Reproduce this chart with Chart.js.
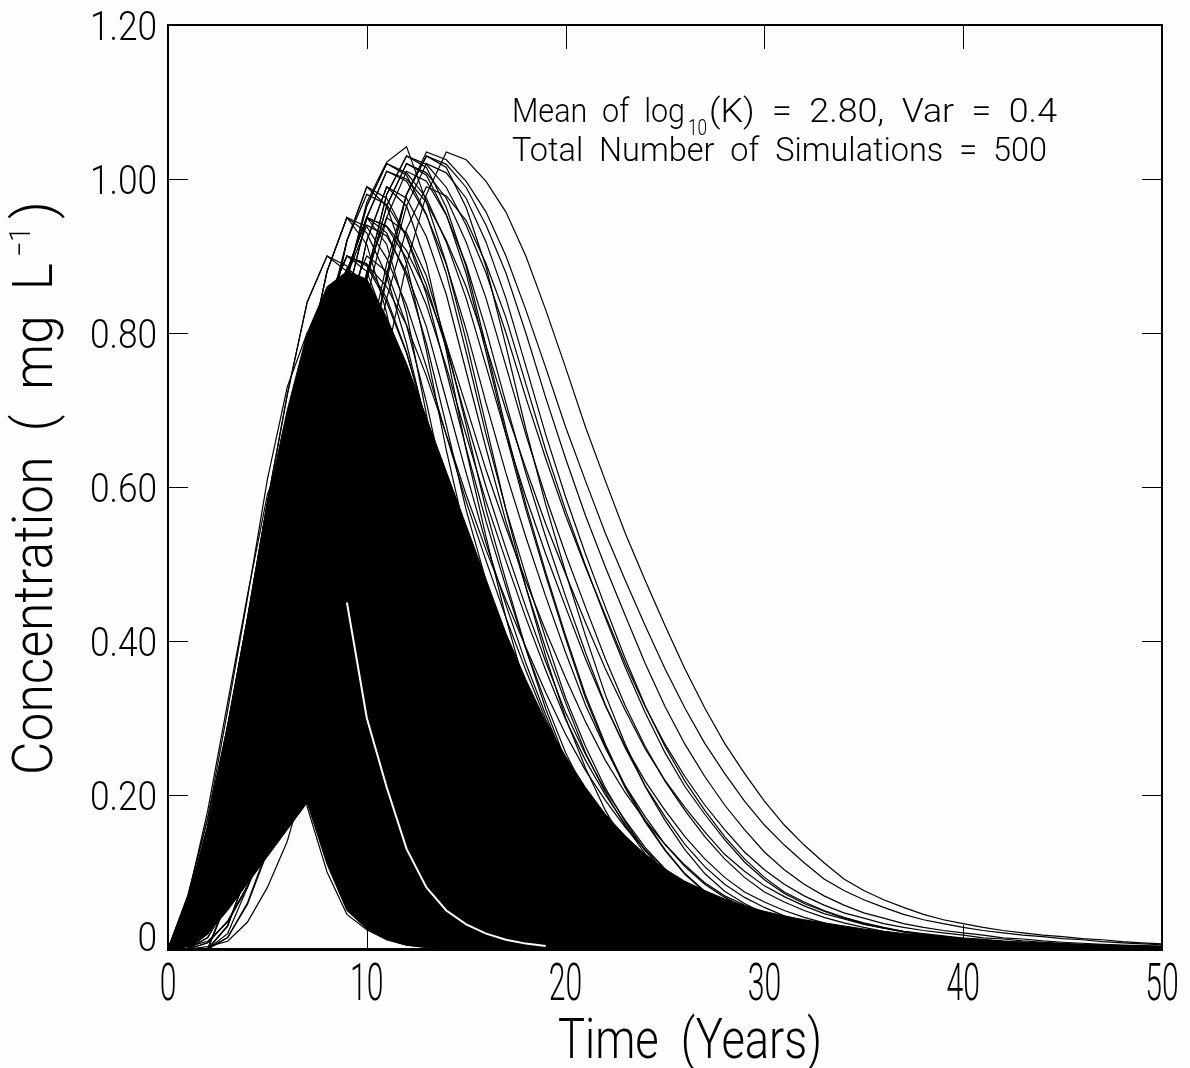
<!DOCTYPE html>
<html>
<head>
<meta charset="utf-8">
<script src="https://cdn.jsdelivr.net/npm/chart.js@4.4.1/dist/chart.umd.min.js"></script>
<style>
  html, body { margin: 0; padding: 0; background: #fdfdfd; }
</style>
</head>
<body>
<canvas id="grafica1" width="1190" height="1068"></canvas>
<script>
// sample times (years) - every run is sampled once a year
const years = [0,1,2,3,4,5,6,7,8,9,10,11,12,13,14,15,16,17,18,19,20,21,22,23,24,25,26,27,28,29,30,31,32,33,34,35,36,37,38,39,40,41,42,43,44,45,46,47,48,49,50];

const xTicks = [0, 10, 20, 30, 40, 50];
const xTickLabels = ['0', '10', '20', '30', '40', '50'];
const yTicks = [0, 0.2, 0.4, 0.6, 0.8, 1.0, 1.2];
const yTickLabels = ['0', '0.20', '0.40', '0.60', '0.80', '1.00', '1.20'];

// concentration of the runs that can be told apart (mg/L, from t = 0)
const runs = [
  [0,.066,.18,.32,.46,.59,.66,.63,.546,.432,.332,.244,.17,.116,.076,.048,.032,.022,.015,.011,.0073,.005,.0036,.0025],
  [0,.068,.17,.31,.456,.61,.73,.80,.77,.70,.584,.47,.37,.28,.206,.149,.104,.07,.05,.035,.026,.018,.014,.01,.007,.005,.0036,.0025],
  [0,.063,.16,.29,.43,.58,.72,.84,.90,.88,.81,.71,.59,.49,.39,.31,.23,.175,.13,.092,.066,.047,.034,.025,.018,.013,.009,.006,.004,.003],
  [0,.03,.10,.21,.34,.48,.62,.76,.88,.95,.93,.874,.786,.68,.57,.478,.39,.312,.245,.19,.146,.109,.081,.061,.047,.036,.028,.022,.018,.014,.0105,.008,.0065,.005,.004,.003,.0025],
  [0,0,.03,.10,.21,.35,.50,.65,.80,.92,.99,.975,.925,.85,.75,.65,.555,.47,.39,.32,.255,.203,.16,.124,.094,.072,.056,.045,.036,.029,.023,.019,.015,.012,.0095,.0075,.006,.005,.004,.003,.0025],
  [0,0,.02,.08,.17,.29,.425,.565,.71,.845,.95,1.01,.997,.953,.889,.804,.709,.618,.535,.458,.385,.317,.261,.212,.172,.136,.107,.084,.067,.054,.043,.035,.028,.023,.019,.016,.013,.0105,.0085,.007,.0056,.0047,.004,.0033,.0025],
  [0,0,.015,.06,.13,.235,.36,.485,.62,.75,.87,.965,1.02,1.008,.975,.918,.845,.757,.668,.587,.513,.444,.377,.316,.263,.218,.18,.146,.117,.093,.074,.061,.05,.041,.034,.028,.023,.019,.016,.013,.011,.009,.0075,.006,.005,.004,.0035,.003,.0025],
  [0,0,.008,.036,.082,.155,.25,.36,.485,.62,.75,.875,.98,1.03,1.019,.989,.94,.878,.80,.716,.637,.563,.496,.433,.371,.315,.266,.224,.187,.155,.126,.103,.084,.069,.057,.047,.04,.033,.028,.024,.021,.018,.0145,.013,.0105,.0088,.0075,.006,.005,.0044,.0037],
  [0,0,.003,.01,.035,.08,.14,.23,.35,.49,.63,.77,.89,.98,1.035,1.025,.997,.957,.90,.83,.755,.678,.608,.54,.479,.42,.364,.313,.267,.228,.192,.161,.135,.112,.091,.076,.064,.054,.045,.038,.033,.028,.024,.021,.018,.016,.0135,.012,.0095,.008,.0067],
  [0,0,.02,.08,.17,.29,.43,.58,.73,.87,.97,1.022,1.042,.97,.89,.79,.68,.57,.47,.38,.30,.235,.18,.135,.10,.074,.055,.041,.03,.022,.016,.012,.009,.0065,.005,.0035,.0025],
  [0,.07,.17,.29,.40,.44,.30,.185,.10,.045,.025,.012,.005,.002],
  [0,.06,.15,.27,.38,.45,.38,.25,.14,.07,.035,.018,.008,.003],
  [0,.05,.14,.25,.36,.47,.46,.33,.20,.11,.055,.027,.012,.005,.002],
  [0,0,.068,.17,.31,.456,.61,.73,.80,.77,.70,.584,.47,.37,.28,.206,.149,.104,.07,.05,.035,.026,.018,.014,.01,.007,.005,.0036,.0025],
  [0,0,.063,.16,.29,.43,.58,.72,.84,.90,.88,.81,.71,.59,.49,.39,.31,.23,.175,.13,.092,.066,.047,.034,.025,.018,.013,.009,.006,.004,.003],
  [0,0,0,.063,.16,.29,.43,.58,.72,.84,.90,.88,.81,.71,.59,.49,.39,.31,.23,.175,.13,.092,.066,.047,.034,.025,.018,.013,.009,.006,.004,.003],
  [0,0,.03,.10,.21,.34,.48,.62,.76,.88,.95,.93,.874,.786,.68,.57,.478,.39,.312,.245,.19,.146,.109,.081,.061,.047,.036,.028,.022,.018,.014,.0105,.008,.0065,.005,.004,.003,.0025],
  [0,0,0,.03,.10,.21,.34,.48,.62,.76,.88,.95,.93,.874,.786,.68,.57,.478,.39,.312,.245,.19,.146,.109,.081,.061,.047,.036,.028,.022,.018,.014,.0105,.008,.0065,.005,.004,.003,.0025],
  [0,0,0,.03,.10,.21,.35,.50,.65,.80,.92,.99,.975,.925,.85,.75,.65,.555,.47,.39,.32,.255,.203,.16,.124,.094,.072,.056,.045,.036,.029,.023,.019,.015,.012,.0095,.0075,.006,.005,.004,.003,.0025],
  [0,.03,.09,.19,.32,.46,.60,.73,.84,.90,.89,.845,.775,.685,.595,.51,.43,.355,.29,.232,.185,.146,.113,.086,.066,.051,.041,.033,.026,.021,.017,.014,.011,.0087,.0068,.0055,.0046,.0037,.0027],
  [0,.02,.08,.165,.28,.41,.55,.69,.82,.92,.98,.967,.925,.862,.78,.688,.60,.52,.444,.373,.307,.253,.206,.167,.132,.104,.081,.065,.052,.042,.034,.027,.022,.018,.0155,.0126,.0102,.0082,.0068,.0054,.0046,.0039,.0032,.0024],
  [0,0,0,.02,.08,.17,.29,.425,.565,.71,.845,.95,1.01,.997,.953,.889,.804,.709,.618,.535,.458,.385,.317,.261,.212,.172,.136,.107,.084,.067,.054,.043,.035,.028,.023,.019,.016,.013,.0105,.0085,.007,.0056,.0047,.004,.0033,.0025],
  [0,.015,.06,.13,.235,.36,.485,.62,.75,.87,.965,1.02,1.008,.975,.918,.845,.757,.668,.587,.513,.444,.377,.316,.263,.218,.18,.146,.117,.093,.074,.061,.05,.041,.034,.028,.023,.019,.016,.013,.011,.009,.0075,.006,.005,.004,.0035,.003,.0025],
  [0,0,0,.015,.06,.13,.235,.36,.485,.62,.75,.87,.965,1.02,1.008,.975,.918,.845,.757,.668,.587,.513,.444,.377,.316,.263,.218,.18,.146,.117,.093,.074,.061,.05,.041,.034,.028,.023,.019,.016,.013,.011,.009,.0075,.006,.005,.004,.0035,.003,.0025],
  [0,.008,.036,.082,.155,.25,.36,.485,.62,.75,.875,.98,1.03,1.019,.989,.94,.878,.80,.716,.637,.563,.496,.433,.371,.315,.266,.224,.187,.155,.126,.103,.084,.069,.057,.047,.04,.033,.028,.024,.021,.018,.0145,.013,.0105,.0088,.0075,.006,.005,.0044,.0037],
  [0,.003,.01,.035,.08,.14,.23,.35,.49,.63,.77,.89,.98,1.035,1.025,.997,.957,.90,.83,.755,.678,.608,.54,.479,.42,.364,.313,.267,.228,.192,.161,.135,.112,.091,.076,.064,.054,.045,.038,.033,.028,.024,.021,.018,.016,.0135,.012,.0095,.008,.0067,.0055],
  [0,.03,.10,.21,.34,.48,.62,.76,.88,.95,.915,.826,.694,.558,.44,.334,.245,.177,.124,.084,.059,.042,.03,.022,.016,.012,.0085,.006,.0043,.003],
  [0,.063,.16,.29,.43,.58,.72,.84,.90,.887,.84,.774,.684,.59,.504,.428,.356,.288,.232,.185,.146,.113,.086,.066,.051,.04,.032,.026,.021,.017,.0135,.011,.0085,.007,.0054,.0045,.0036,.003],
  [0,0,.03,.10,.21,.35,.50,.65,.80,.92,.99,.965,.89,.777,.648,.535,.43,.337,.255,.192,.142,.101,.072,.053,.04,.031,.023,.018,.0135,.01,.0078,.0057,.0045,.0035,.0025],
  [0,0,.066,.18,.32,.46,.59,.66,.63,.546,.432,.332,.244,.17,.116,.076,.048,.032,.022,.015,.011,.0073,.005,.0036,.0025],
  [0,0,0,.068,.17,.31,.456,.61,.73,.80,.77,.70,.584,.47,.37,.28,.206,.149,.104,.07,.05,.035,.026,.018,.014,.01,.007,.005,.0036,.0025],
  [0,.03,.10,.21,.34,.48,.62,.76,.88,.95,.938,.897,.836,.756,.667,.581,.504,.43,.362,.298,.245,.2,.162,.128,.1,.079,.063,.05,.041,.033,.027,.022,.018,.015,.012,.01,.008,.0067,.0053,.0045,.0037,.003,.0025],
  [0,0,0,.03,.10,.21,.35,.50,.65,.80,.92,.99,.965,.89,.777,.648,.535,.43,.337,.255,.192,.142,.101,.072,.053,.04,.031,.023,.018,.0135,.01,.0078,.0057,.0045,.0035,.0025],
  [0,0,.03,.10,.21,.34,.48,.62,.76,.88,.95,.915,.826,.694,.558,.44,.334,.245,.177,.124,.084,.059,.042,.03,.022,.016,.012,.0085,.006,.0043,.003],
  [0,0,.063,.16,.29,.43,.58,.72,.84,.90,.887,.84,.774,.684,.59,.504,.428,.356,.288,.232,.185,.146,.113,.086,.066,.051,.04,.032,.026,.021,.017,.0135,.011,.0085,.007,.0054,.0045,.0036,.003],
  [0,0,.03,.10,.21,.34,.48,.62,.76,.88,.95,.938,.897,.836,.756,.667,.581,.504,.43,.362,.298,.245,.2,.162,.128,.1,.079,.063,.05,.041,.033,.027,.022,.018,.015,.012,.01,.008,.0067,.0053,.0045,.0037,.003,.0025],
  [0,0,0,.066,.18,.32,.46,.59,.66,.63,.546,.432,.332,.244,.17,.116,.076,.048,.032,.022,.015,.011,.0073,.005,.0036,.0025],
  [0,0,.02,.08,.17,.29,.425,.565,.71,.845,.95,1.01,1.0,.97,.92,.86,.783,.70,.624,.552,.487,.424,.364,.31,.26,.219,.184,.152,.123,.101,.082,.068,.056,.046,.039,.032,.027,.023,.02,.017,.014,.0125,.01,.0085,.0073,.0058,.005,.0043,.0036,.003,.0025],
  [0,0,.015,.06,.13,.235,.36,.485,.62,.75,.87,.965,1.02,1.005,.954,.877,.775,.668,.571,.485,.403,.326,.263,.209,.165,.128,.097,.074,.058,.046,.037,.03,.023,.019,.015,.012,.0095,.0075,.006,.005,.004,.003,.0025],
  [0,0,.008,.036,.082,.155,.25,.36,.485,.62,.75,.875,.98,1.03,1.015,.963,.886,.783,.675,.577,.489,.407,.33,.266,.211,.167,.129,.098,.075,.059,.046,.037,.03,.024,.019,.015,.012,.0098,.0077,.0062,.0052,.0041,.0031,.0026],
  [0,.015,.06,.13,.235,.36,.485,.62,.75,.87,.965,1.02,1.005,.954,.877,.775,.668,.571,.485,.403,.326,.263,.209,.165,.128,.097,.074,.058,.046,.037,.03,.023,.019,.015,.012,.0095,.0075,.006,.005,.004,.003,.0025],
  [0,.008,.036,.082,.155,.25,.36,.485,.62,.75,.875,.98,1.03,1.015,.963,.886,.783,.675,.577,.489,.407,.33,.266,.211,.167,.129,.098,.075,.059,.046,.037,.03,.024,.019,.015,.012,.0098,.0077,.0062,.0052,.0041,.0031,.0026],
  [0,0,.03,.10,.21,.34,.48,.62,.76,.88,.95,.939,.907,.855,.786,.705,.622,.547,.478,.413,.352,.295,.245,.203,.167,.136,.109,.086,.069,.057,.047,.038,.031,.027,.022,.018,.015,.012,.01,.0085,.007,.0057,.0047,.0038,.0033,.0028,.0025],
  [0,0,.063,.16,.29,.43,.58,.72,.84,.90,.889,.86,.81,.744,.668,.59,.518,.453,.392,.333,.279,.232,.193,.158,.129,.104,.082,.066,.054,.044,.036,.03,.025,.021,.017,.014,.012,.01,.008,.0068,.0054,.0045,.0036,.0032,.0027],
  [0,0,0,.015,.058,.126,.228,.35,.47,.60,.73,.845,.935,.99,.978,.946,.89,.82,.734,.648,.57,.498,.43,.366,.307,.255,.211,.175,.142,.113,.09,.072,.059,.049,.04,.033,.027,.022,.018,.0155,.0126,.0107,.0087,.0073,.0058,.0049,.0039,.0034,.0029,.0024],
  [0,.028,.093,.195,.316,.446,.577,.707,.818,.884,.865,.813,.731,.632,.53,.445,.363,.29,.228,.177,.136,.101,.075,.057,.044,.033,.026,.02,.017,.013,.0098,.0074,.006,.0047,.0037,.0028,.0023],
  [0,0,.028,.095,.2,.333,.475,.618,.76,.874,.94,.926,.879,.808,.713,.618,.527,.447,.371,.304,.242,.193,.152,.118,.089,.068,.053,.043,.034,.028,.022,.018,.014,.011,.009,.0071,.0057,.0048,.0038,.0029,.0024]
];

// where the 500 runs overlap into solid black: top and bottom edge of that core
const coreTop = [0,.063,.16,.29,.43,.58,.70,.80,.86,.88,.87,.82,.76,.69,.62,.55,.48,.41,.35,.295,.25,.21,.175,.147,.123,.104,.088,.076,.065,.056,.049,.043,.038,.034,.030,.026,.023,.020,.018,.016,.014,.012,.0105,.009,.008,.007,.006,.0052,.0045,.004,.0035];
const coreBottom = [0,.003,.02,.05,.085,.12,.155,.19,.11,.05,.026,.012,.005,.002,0,0,0,0,0,0,0,0,0,0,0,0,0,0,0,0,0,0,0,0,0,0,0,0,0,0,0,0,0,0,0,0,0,0,0,0,0];

// the run drawn in white through the bundle
const whiteYears = [9, 10, 11, 12, 13, 14, 15, 16, 17, 18, 19];
const whiteRun = [.45, .30, .21, .13, .08, .05, .032, .02, .012, .007, .004];

const FONT = 'Roboto, "DejaVu Sans", sans-serif';
const WEIGHT = '300';

// draw text squeezed/stretched horizontally, returns drawn width
function drawText(ctx, str, x, y, size, sx, align) {
  ctx.save();
  ctx.font = WEIGHT + ' ' + size + 'px ' + FONT;
  ctx.textBaseline = 'alphabetic';
  ctx.textAlign = align || 'left';
  ctx.translate(x, y);
  ctx.scale(sx, 1);
  ctx.fillText(str, 0, 0);
  const w = ctx.measureText(str).width * sx;
  ctx.restore();
  return w;
}

function fitText(ctx, str, x, y, size, width) {
  ctx.save();
  ctx.font = WEIGHT + ' ' + size + 'px ' + FONT;
  const w = ctx.measureText(str).width;
  ctx.restore();
  return drawText(ctx, str, x, y, size, width / w, 'left');
}

const framePlugin = {
  id: 'frame',
  afterDatasetsDraw(chart) {
    const { ctx, chartArea: a, scales: { x, y } } = chart;
    ctx.save();
    ctx.strokeStyle = '#000';
    ctx.lineWidth = 1;
    ctx.beginPath();
    yTicks.forEach(v => {
      const py = Math.round(y.getPixelForValue(v)) + 0.5;
      ctx.moveTo(a.left, py); ctx.lineTo(a.left + 20, py);
      ctx.moveTo(a.right - 20, py); ctx.lineTo(a.right, py);
    });
    xTicks.forEach(v => {
      const px = Math.round(x.getPixelForValue(v)) + 0.5;
      ctx.moveTo(px, a.bottom); ctx.lineTo(px, a.bottom - 24);
      ctx.moveTo(px, a.top); ctx.lineTo(px, a.top + 24);
    });
    ctx.stroke();
    ctx.lineWidth = 2;
    ctx.strokeRect(a.left, a.top, a.right - a.left, a.bottom - a.top);
    ctx.fillStyle = '#000';
    ctx.fillRect(a.left - 1, a.bottom - 1, a.right - a.left + 2, 3);
    ctx.restore();
  },
  afterDraw(chart) {
    const { ctx, scales: { x, y } } = chart;
    ctx.save();
    ctx.fillStyle = '#000';
    // tick labels
    yTicks.forEach((v, i) => {
      const py = y.getPixelForValue(v);
      const base = v === 0 ? py + 2 : py + 15;
      drawText(ctx, yTickLabels[i], 157, base, 41, 0.86, 'right');
    });
    xTicks.forEach((v, i) => {
      drawText(ctx, xTickLabels[i], x.getPixelForValue(v), 1000, 52, 0.58, 'center');
    });
    // axis titles
    fitText(ctx, 'Time  (Years)', 558, 1058, 56, 264);
    ctx.save();
    ctx.translate(52, 775);
    ctx.rotate(-Math.PI / 2);
    fitText(ctx, 'Concentration  (  mg  L', 0, 0, 56, 512);
    fitText(ctx, '\u22121', 518, -22, 30, 30);
    fitText(ctx, ')', 556, 0, 56, 18);
    ctx.restore();
    // annotation
    fitText(ctx, 'Mean  of  log', 512, 122, 34, 173);
    fitText(ctx, '10', 688, 135, 22, 19);
    fitText(ctx, '(K)  =  2.80,  Var  =  0.4', 709, 122, 34, 348);
    fitText(ctx, 'Total  Number  of  Simulations  =  500', 512, 161, 34, 535);
    ctx.restore();
  }
};

const datasets = runs.map(vals => ({
  data: vals.map((v, i) => ({ x: years[i], y: v })),
  borderColor: '#000',
  borderWidth: 1.2,
  pointRadius: 0,
  tension: 0,
  fill: false,
  order: 1
}));
datasets.unshift({
  data: whiteRun.map((v, i) => ({ x: whiteYears[i], y: v })),
  borderColor: '#fdfdfd',
  borderWidth: 2,
  pointRadius: 0,
  tension: 0,
  fill: false,
  order: 0
});
datasets.push({
  data: coreTop.map((v, i) => ({ x: years[i], y: v })),
  borderColor: '#000',
  borderWidth: 1,
  backgroundColor: '#000',
  pointRadius: 0,
  tension: 0,
  fill: '+1',
  order: 2
});
datasets.push({
  data: coreBottom.map((v, i) => ({ x: years[i], y: v })),
  borderColor: '#000',
  borderWidth: 1,
  pointRadius: 0,
  tension: 0,
  fill: false,
  order: 2
});

const grafica1 = document.getElementById('grafica1').getContext('2d');
const grafica = new Chart(grafica1, {
  type: 'line',
  data: { datasets: datasets },
  options: {
    responsive: false,
    animation: false,
    devicePixelRatio: 1,
    layout: { padding: { left: 168, top: 25, right: 28, bottom: 119 } },
    plugins: { legend: { display: false }, tooltip: { enabled: false } },
    scales: {
      x: { type: 'linear', min: 0, max: 50, display: false },
      y: { type: 'linear', min: 0, max: 1.2, display: false }
    }
  },
  plugins: [framePlugin]
});
</script>
</body>
</html>
